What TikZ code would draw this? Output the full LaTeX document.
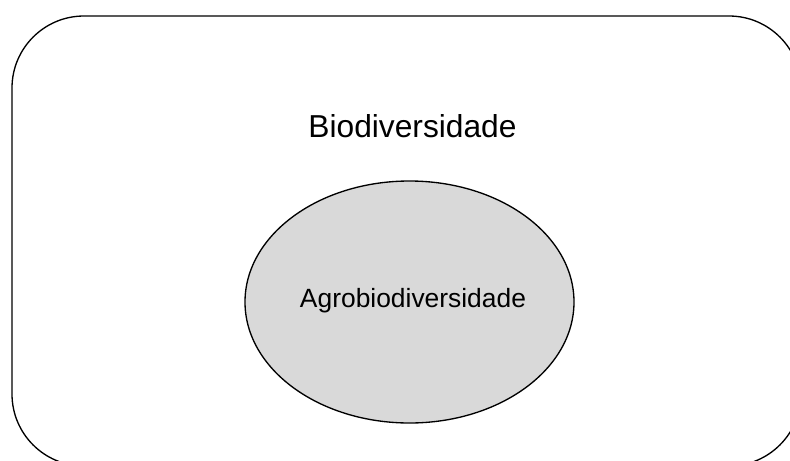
\documentclass[tikz,border=0pt]{standalone}
\usepackage{fontspec}
\setmainfont{Liberation Sans}
\usetikzlibrary{shapes.geometric}
\definecolor{ellgray}{RGB}{217,217,217}
\tikzset{
  outerbox/.style={draw=black, line width=1pt, rounded corners=54pt, inner sep=0pt,
    minimum width=591.75pt, minimum height=337.5pt},
  innerell/.style={ellipse, draw=black, line width=1pt, fill=ellgray, inner sep=0pt,
    minimum width=246.75pt, minimum height=181.5pt},
  bigtxt/.style={font=\fontsize{23.8pt}{28pt}\selectfont, anchor=base, inner sep=0pt},
  smalltxt/.style={font=\fontsize{19.8pt}{24pt}\selectfont, anchor=base, inner sep=0pt}
}
\begin{document}
\begin{tikzpicture}[x=0.75pt, y=-0.75pt]
\useasboundingbox (0,0) rectangle (790,461);
\clip (0,0) rectangle (790,461);
\node[outerbox] (outer) at (406.5,241) {};
\node[innerell] (agro) at (409.5,302) {};
\node[bigtxt] (bio) at (412.5,137) {Biodiversidade};
\node[smalltxt] (agrotxt) at (413,307) {Agrobiodiversidade};
\end{tikzpicture}
\end{document}
